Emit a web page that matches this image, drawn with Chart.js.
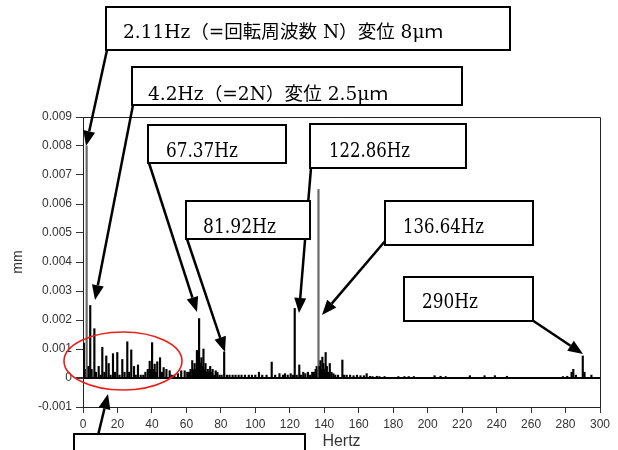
<!DOCTYPE html>
<html>
<head>
<meta charset="utf-8">
<script src="https://cdn.jsdelivr.net/npm/chart.js@4.4.1/dist/chart.umd.min.js"></script>
<style>
  body { margin: 0; background: #fff; }
</style>
</head>
<body>
<canvas id="chart" width="618" height="450"></canvas>
<script>
// spectrum lines (Hz / mm)
const freqHz = [
    0.5, 1.2, 2.11, 3.2, 4.2, 5.0, 6.6, 7.5, 9.1, 10.2, 11.2, 12.4, 13.5, 14.9, 16.0,
    17.4, 18.6, 19.9, 21.2, 22.8, 24.1, 25.7, 26.8, 28.0, 29.6, 30.6, 31.9, 33.5, 35.0,
    36.2, 37.6, 38.7, 39.4, 40.1, 40.8, 41.6, 42.4, 43.1, 44.7, 45.8, 46.8, 48.4, 50.3,
    51.5, 53.0, 55.1, 57.0, 59.0,
    60.5, 61.5, 62.4, 63.4, 64.1, 64.8, 65.5, 66.1, 66.7, 67.37, 68.0, 68.7, 69.3, 69.9,
    70.5, 71.1, 71.8, 72.4, 73.1, 73.8, 74.5, 75.2, 76.2, 77.0, 78.0, 79.2, 80.4, 81.92,
    83.5, 85.0, 86.8, 88.5, 90.3, 92.0, 94.0, 96.2, 98.0, 100.0,
    102.1, 104.0, 106.5, 109.5, 111.5, 114.0, 116.0, 117.2, 118.8, 120.5, 121.8, 122.86,
    124.0, 125.5, 126.5, 127.8, 129.0, 130.5, 131.8, 133.0, 134.0, 135.0, 135.6, 136.2,
    136.64, 137.3, 137.8, 138.4, 138.9, 139.5, 140.2, 140.8, 141.5, 142.2, 143.2, 144.2,
    145.3, 146.4, 148.0, 150.5, 151.5, 153.0, 155.0, 157.0, 159.0, 161.0, 163.0, 164.6,
    166.5, 168.0, 170.5, 172.0, 175.0,
    183.0, 186.5, 189.0, 192.0, 204.0, 207.5, 210.5, 224.5, 233.0, 239.0, 246.0,
    278.5, 281.0, 283.5, 284.5, 286.0, 290.0, 291.0, 295.0
];
const ampMm = [
    0.0012, 0.0003, 0.0080, 0.0004, 0.0025, 0.0003, 0.0017, 0.0002, 0.0004, 0.0001, 0.00106, 0.0002, 0.00076, 0.0005, 0.0001,
    0.00084, 0.0002, 0.00088, 0.0001, 0.00064, 0.0002, 0.00125, 0.0002, 0.00097, 0.0004, 0.0001, 0.00045, 0.0001, 0.0001,
    0.0002, 0.0003, 0.00058, 0.0003, 0.00122, 0.0003, 0.00048, 0.0002, 0.00056, 0.0007, 0.0002, 0.00036, 0.0003, 0.00025,
    0.0001, 0.0001, 0.00015, 0.00025, 0.00025,
    0.0002, 0.0002, 0.0003, 0.0006, 0.0003, 0.0005, 0.0003, 0.00095, 0.0004, 0.00205, 0.0005, 0.0007, 0.0004, 0.0010,
    0.0003, 0.0005, 0.0002, 0.0003, 0.0002, 0.0004, 0.0002, 0.0003, 0.0001, 0.00025, 0.0002, 0.0001, 0.0001, 0.0009,
    0.0001, 0.0001, 0.0001, 0.0001, 0.0001, 0.0001, 0.0001, 0.0001, 0.0001, 0.0001,
    0.0002, 0.0001, 0.0001, 0.00055, 0.0001, 0.00015, 0.0001, 0.00015, 0.0001, 0.00015, 0.0001, 0.0024,
    0.0001, 0.00045, 0.0001, 0.0002, 0.00015, 0.0002, 0.0001, 0.0002, 0.0002, 0.0003, 0.0004, 0.0003,
    0.0065, 0.0004, 0.0006, 0.0003, 0.00072, 0.0005, 0.0003, 0.00088, 0.0004, 0.0002, 0.0005, 0.0002,
    0.00015, 0.0001, 0.0001, 0.00062, 0.0001, 0.0001, 0.0001, 0.00008, 0.0001, 0.00008, 0.00008, 0.00015,
    0.00006, 0.00005, 0.00006, 0.00005, 0.00005,
    0.00005, 0.00005, 0.00005, 0.00005, 0.00008, 0.00006, 0.00005, 0.00008, 0.00008, 0.00008, 0.00006,
    0.00005, 0.00006, 0.0002, 0.0003, 0.0001, 0.00076, 0.0002, 0.0001
];
const yTicks = [-0.001, 0, 0.001, 0.002, 0.003, 0.004, 0.005, 0.006, 0.007, 0.008, 0.009];
const xTicks = [0, 20, 40, 60, 80, 100, 120, 140, 160, 180, 200, 220, 240, 260, 280, 300];

// callout boxes: left, top, right, bottom, text, text x, baseline, text width, font size
const notes = [
    [106, 7, 510, 50, '2.11Hz（=回転周波数 N）変位 8μｍ', 123, 38, 320, 18],
    [132, 67, 462, 105, '4.2Hz（=2N）変位 2.5μｍ', 148, 100, 240, 18],
    [148, 125, 286, 163, '67.37Hz', 166, 157, 72, 20],
    [186, 201, 310, 239, '81.92Hz', 203, 233, 73, 20],
    [310, 124, 466, 168, '122.86Hz', 329, 157, 81, 20],
    [385, 201, 533, 245, '136.64Hz', 403, 233, 81, 20],
    [404, 277, 533, 321, '290Hz', 422, 308, 56, 20],
    [74, 434, 305, 470, '', 0, 0, 0, 0]
];
// arrows: from x, from y, tip x, tip y
const arrows = [
    [107, 50, 86, 146],
    [133, 105, 95, 300],
    [149, 163, 197, 312],
    [187, 239, 225, 352],
    [311, 168, 299, 313],
    [386, 240, 322, 315],
    [532, 320, 583, 354],
    [94, 452, 108, 394]
];

const tickFont = {family: '"Liberation Sans", Arial, sans-serif', size: 12};

function drawArrow(ctx, a) {
    const [x1, y1, x2, y2] = a;
    const ang = Math.atan2(y2 - y1, x2 - x1);
    const len = 15, half = 6;
    const bx = x2 - Math.cos(ang) * len, by = y2 - Math.sin(ang) * len;
    ctx.strokeStyle = '#000';
    ctx.lineWidth = 2.5;
    ctx.beginPath();
    ctx.moveTo(x1, y1);
    ctx.lineTo(bx, by);
    ctx.stroke();
    ctx.fillStyle = '#000';
    ctx.beginPath();
    ctx.moveTo(x2, y2);
    ctx.lineTo(bx - Math.sin(ang) * half, by + Math.cos(ang) * half);
    ctx.lineTo(bx + Math.sin(ang) * half, by - Math.cos(ang) * half);
    ctx.closePath();
    ctx.fill();
}

function drawNote(ctx, n) {
    const [l, t, r, b, text, tx, base, tw, size] = n;
    ctx.fillStyle = '#fff';
    ctx.fillRect(l, t, r - l, b - t);
    ctx.strokeStyle = '#000';
    ctx.lineWidth = 2;
    ctx.strokeRect(l, t, r - l, b - t);
    if (!text) return;
    ctx.font = size + 'px "DejaVu Serif", "Noto Sans CJK JP", serif';
    const w = ctx.measureText(text).width;
    ctx.save();
    ctx.translate(tx, base);
    ctx.scale(tw / w, 1);
    ctx.fillStyle = '#000';
    ctx.textBaseline = 'alphabetic';
    ctx.textAlign = 'left';
    ctx.fillText(text, 0, 0);
    ctx.restore();
}

const decor = {
    id: 'decor',
    beforeDraw(chart) {
        const ctx = chart.ctx;
        ctx.save();
        ctx.fillStyle = '#fff';
        ctx.fillRect(0, 0, chart.width, chart.height);
        ctx.restore();
    },
    afterDraw(chart) {
        const ctx = chart.ctx, a = chart.chartArea;
        ctx.save();
        // top and right edge of the plot frame
        ctx.strokeStyle = '#222';
        ctx.lineWidth = 1;
        ctx.beginPath();
        ctx.moveTo(a.left, a.top + 0.5);
        ctx.lineTo(a.right + 0.5, a.top + 0.5);
        ctx.lineTo(a.right + 0.5, a.bottom);
        ctx.stroke();
        // red circle round the low band
        ctx.strokeStyle = '#e8201c';
        ctx.lineWidth = 1.6;
        ctx.beginPath();
        ctx.ellipse(123, 361, 59, 29, 0, 0, Math.PI * 2);
        ctx.stroke();
        arrows.forEach(ar => drawArrow(ctx, ar));
        notes.forEach(n => drawNote(ctx, n));
        ctx.restore();
    }
};

const isZero = v => Math.abs(v) < 1e-9;

new Chart(document.getElementById('chart'), {
    type: 'bar',
    data: {
        datasets: [{
            data: freqHz.map((f, i) => ({x: f, y: ampMm[i]})),
            backgroundColor: c => (c.raw && c.raw.y > 0.005) ? '#666' : '#000',
            barThickness: 1.5,
            grouped: false
        }]
    },
    options: {
        responsive: false,
        animation: false,
        layout: {padding: {left: 0, right: 18, top: 117, bottom: 0}},
        plugins: {legend: {display: false}, tooltip: {enabled: false}},
        scales: {
            x: {
                type: 'linear',
                min: 0,
                max: 300,
                offset: false,
                afterBuildTicks: s => { s.ticks = xTicks.map(v => ({value: v})); },
                afterFit: s => { s.height = 43; },
                border: {color: '#222', width: 1},
                grid: {drawOnChartArea: false, offset: false, tickColor: '#333', tickLength: 6},
                ticks: {font: tickFont, color: '#333', padding: 4, maxRotation: 0, autoSkip: false},
                title: {
                    display: true, text: 'Hertz', color: '#333',
                    font: {family: tickFont.family, size: 16, lineHeight: 1},
                    padding: {top: 0, bottom: 0}
                }
            },
            y: {
                min: -0.001,
                max: 0.009,
                afterBuildTicks: s => { s.ticks = yTicks.map(v => ({value: v})); },
                afterFit: s => { s.width = 83; },
                border: {color: '#222', width: 1},
                grid: {
                    color: c => (c.tick && isZero(c.tick.value)) ? '#000' : 'rgba(0,0,0,0)',
                    lineWidth: c => (c.tick && isZero(c.tick.value)) ? 2 : 1,
                    tickColor: '#333',
                    tickLength: 7
                },
                ticks: {
                    font: tickFont, color: '#333', padding: 4,
                    callback: v => isZero(v) ? '0' : v.toFixed(3)
                },
                title: {
                    display: true, text: 'mm', color: '#333',
                    font: {family: tickFont.family, size: 14, lineHeight: 1.2},
                    padding: {top: 10, bottom: 0}
                }
            }
        }
    },
    plugins: [decor]
});
</script>
</body>
</html>
